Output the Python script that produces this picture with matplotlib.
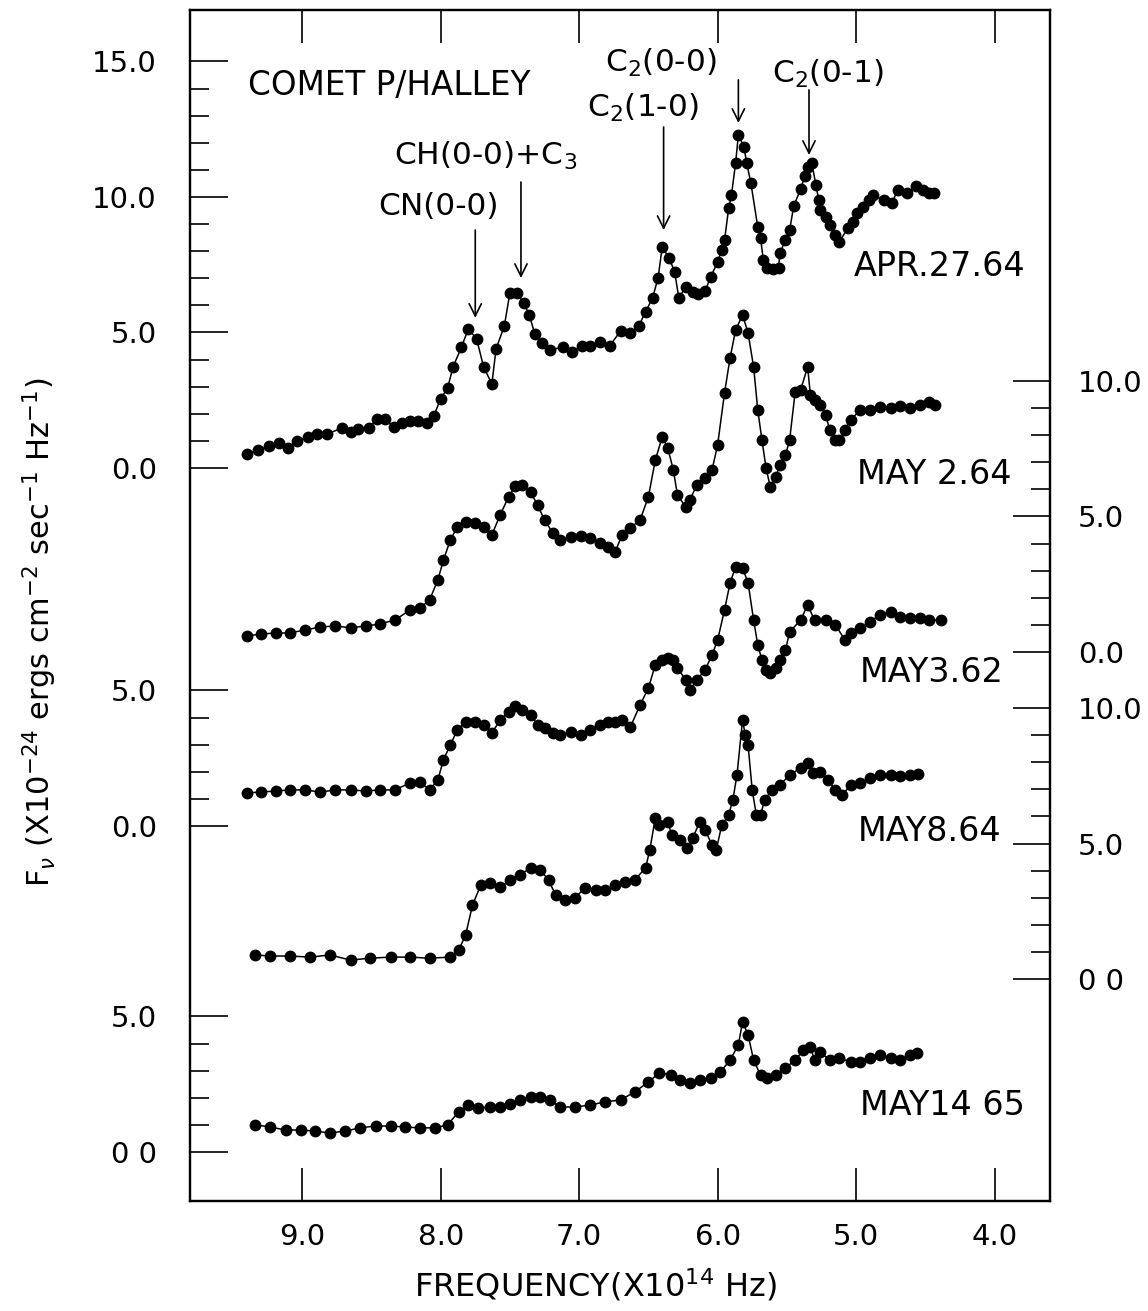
import matplotlib
matplotlib.use("Agg")
import matplotlib.pyplot as plt

plt.rcParams['font.family'] = ['DejaVu Sans']
plt.rcParams['mathtext.fontset'] = 'dejavusans'

# ---- spectra: frequency (1e14 Hz) and F_nu on each curve's own scale ----
apr_f = [9.40, 9.32, 9.24, 9.17, 9.10, 9.04, 8.96, 8.89, 8.82, 8.71, 8.65, 8.60, 8.52, 8.46, 8.40,
         8.34, 8.28, 8.22, 8.16, 8.10, 8.05, 8.00, 7.95, 7.91, 7.85, 7.80, 7.74, 7.69, 7.63, 7.60,
         7.54, 7.50, 7.45, 7.40, 7.36, 7.32, 7.27, 7.21, 7.12, 7.05, 6.98, 6.92, 6.85, 6.78, 6.70,
         6.63, 6.57, 6.52, 6.47, 6.43, 6.40, 6.35, 6.31, 6.28, 6.23, 6.18, 6.14, 6.09, 6.05, 6.00,
         5.97, 5.95, 5.92, 5.90, 5.87, 5.85, 5.81, 5.79, 5.76, 5.71, 5.69, 5.67, 5.64, 5.60, 5.56,
         5.55, 5.51, 5.48, 5.45, 5.40, 5.37, 5.35, 5.32, 5.29, 5.27, 5.26, 5.22, 5.19, 5.15, 5.12,
         5.06, 5.02, 4.99, 4.95, 4.91, 4.88, 4.80, 4.74, 4.70, 4.63, 4.57, 4.52, 4.47, 4.44]
apr_v = [0.52, 0.66, 0.81, 0.92, 0.74, 1.00, 1.14, 1.25, 1.25, 1.48, 1.33, 1.44, 1.48, 1.81, 1.81,
         1.51, 1.66, 1.73, 1.73, 1.66, 1.92, 2.55, 2.95, 3.73, 4.46, 5.13, 4.76, 3.73, 3.10, 4.39,
         5.24, 6.46, 6.46, 6.09, 5.65, 4.94, 4.61, 4.35, 4.46, 4.28, 4.50, 4.50, 4.65, 4.50, 5.06,
         4.98, 5.24, 5.76, 6.27, 7.01, 8.15, 7.75, 7.23, 6.27, 6.68, 6.49, 6.42, 6.53, 7.05, 7.60,
         8.04, 8.41, 9.59, 10.07, 11.25, 12.29, 11.85, 11.25, 10.52, 8.89, 8.49, 7.68, 7.38, 7.34, 7.38,
         7.93, 8.41, 8.78, 9.67, 10.30, 10.77, 11.11, 11.25, 10.44, 9.89, 9.52, 9.26, 8.97, 8.60, 8.34,
         8.86, 9.08, 9.41, 9.63, 9.89, 10.07, 9.89, 9.78, 10.26, 10.15, 10.41, 10.26, 10.15, 10.15]

may2_f = [9.40, 9.30, 9.19, 9.09, 8.98, 8.87, 8.76, 8.65, 8.54, 8.44, 8.33, 8.22, 8.15, 8.08, 8.02,
          7.98, 7.93, 7.88, 7.82, 7.75, 7.69, 7.63, 7.57, 7.51, 7.46, 7.41, 7.35, 7.30, 7.25, 7.19,
          7.14, 7.06, 6.99, 6.92, 6.85, 6.79, 6.74, 6.69, 6.63, 6.56, 6.50, 6.45, 6.40, 6.36, 6.32,
          6.29, 6.23, 6.20, 6.15, 6.09, 6.04, 6.00, 5.95, 5.91, 5.87, 5.82, 5.78, 5.74, 5.71, 5.68,
          5.65, 5.62, 5.58, 5.55, 5.51, 5.48, 5.44, 5.40, 5.35, 5.33, 5.30, 5.26, 5.22, 5.19, 5.15,
          5.12, 5.08, 5.04, 4.97, 4.90, 4.83, 4.75, 4.68, 4.61, 4.54, 4.47, 4.43]
may2_v = [0.59, 0.66, 0.70, 0.70, 0.81, 0.92, 0.96, 0.89, 0.96, 1.03, 1.18, 1.55, 1.62, 1.92, 2.66,
          3.39, 4.13, 4.61, 4.80, 4.76, 4.61, 4.32, 5.06, 5.72, 6.13, 6.16, 5.90, 5.42, 4.87, 4.39,
          4.13, 4.24, 4.28, 4.21, 4.02, 3.87, 3.69, 4.32, 4.58, 4.87, 5.72, 7.08, 7.93, 7.53, 6.72,
          5.79, 5.35, 5.61, 6.16, 6.42, 6.72, 7.64, 9.56, 10.85, 11.88, 12.44, 11.77, 10.52, 8.93, 7.82,
          6.79, 6.09, 6.46, 6.90, 7.27, 7.82, 9.59, 9.67, 10.52, 9.48, 9.30, 9.11, 8.75, 8.19, 7.82,
          7.82, 8.19, 8.56, 8.93, 8.93, 9.04, 9.00, 9.08, 9.00, 9.11, 9.23, 9.11]

may3_f = [9.40, 9.30, 9.19, 9.09, 8.98, 8.87, 8.76, 8.65, 8.54, 8.44, 8.33, 8.22, 8.15, 8.08, 8.02,
          7.98, 7.93, 7.88, 7.82, 7.75, 7.69, 7.63, 7.57, 7.51, 7.46, 7.41, 7.35, 7.30, 7.25, 7.19,
          7.14, 7.06, 6.99, 6.92, 6.85, 6.79, 6.74, 6.69, 6.63, 6.56, 6.50, 6.45, 6.40, 6.36, 6.32,
          6.29, 6.23, 6.20, 6.15, 6.09, 6.04, 6.00, 5.95, 5.91, 5.87, 5.82, 5.78, 5.74, 5.71, 5.68,
          5.65, 5.62, 5.58, 5.55, 5.51, 5.48, 5.40, 5.35, 5.30, 5.22, 5.15, 5.08, 5.04, 4.97, 4.90,
          4.83, 4.75, 4.68, 4.61, 4.54, 4.47, 4.39]
may3_v = [1.22, 1.25, 1.29, 1.33, 1.33, 1.25, 1.33, 1.33, 1.29, 1.33, 1.33, 1.59, 1.62, 1.33, 1.70,
          2.44, 2.99, 3.54, 3.84, 3.84, 3.73, 3.43, 3.91, 4.21, 4.43, 4.28, 4.10, 3.73, 3.62, 3.43,
          3.36, 3.47, 3.36, 3.54, 3.73, 3.84, 3.84, 3.91, 3.65, 4.46, 5.09, 5.94, 6.13, 6.20, 6.13,
          5.83, 5.39, 5.02, 5.39, 5.76, 6.31, 6.86, 7.97, 8.97, 9.56, 9.52, 8.97, 7.60, 6.68, 6.13,
          5.76, 5.65, 5.83, 6.13, 6.49, 7.16, 7.60, 8.15, 7.60, 7.60, 7.42, 6.86, 7.12, 7.31, 7.53,
          7.79, 7.90, 7.71, 7.68, 7.68, 7.60, 7.60]

may8_f = [9.34, 9.23, 9.09, 8.94, 8.80, 8.65, 8.51, 8.36, 8.22, 8.08, 7.93, 7.87, 7.82, 7.77, 7.71,
          7.64, 7.57, 7.50, 7.43, 7.35, 7.28, 7.22, 7.17, 7.10, 7.03, 6.96, 6.88, 6.81, 6.74, 6.67,
          6.60, 6.52, 6.49, 6.45, 6.42, 6.36, 6.33, 6.27, 6.22, 6.18, 6.13, 6.09, 6.04, 6.01, 5.97,
          5.92, 5.89, 5.86, 5.82, 5.80, 5.78, 5.75, 5.72, 5.69, 5.66, 5.61, 5.55, 5.48, 5.40, 5.35,
          5.31, 5.26, 5.20, 5.15, 5.10, 5.04, 4.97, 4.90, 4.83, 4.75, 4.68, 4.61, 4.55]
may8_v = [0.89, 0.85, 0.85, 0.81, 0.89, 0.70, 0.77, 0.81, 0.81, 0.77, 0.81, 1.07, 1.62, 2.73, 3.47,
          3.54, 3.39, 3.65, 3.84, 4.10, 4.02, 3.65, 3.10, 2.92, 2.99, 3.36, 3.28, 3.28, 3.47, 3.58,
          3.65, 4.10, 4.76, 5.94, 5.68, 5.79, 5.31, 5.13, 4.83, 5.20, 5.79, 5.50, 4.94, 4.76, 5.68,
          6.05, 6.61, 7.53, 9.56, 9.00, 8.63, 6.97, 6.05, 6.05, 6.61, 6.97, 7.16, 7.53, 7.79, 7.97,
          7.60, 7.64, 7.34, 6.97, 6.79, 7.16, 7.23, 7.42, 7.53, 7.53, 7.49, 7.53, 7.56]

may14_f = [9.34, 9.23, 9.12, 9.01, 8.91, 8.80, 8.69, 8.58, 8.47, 8.36, 8.26, 8.15, 8.04, 7.95, 7.87,
           7.80, 7.73, 7.64, 7.57, 7.50, 7.43, 7.35, 7.28, 7.21, 7.14, 7.03, 6.92, 6.81, 6.70, 6.60,
           6.50, 6.42, 6.34, 6.27, 6.20, 6.13, 6.05, 5.98, 5.91, 5.85, 5.82, 5.78, 5.74, 5.69, 5.64,
           5.58, 5.51, 5.44, 5.38, 5.33, 5.30, 5.26, 5.19, 5.12, 5.04, 4.97, 4.90, 4.83, 4.75, 4.68,
           4.61, 4.56]
may14_v = [1.00, 0.92, 0.81, 0.81, 0.77, 0.70, 0.77, 0.89, 0.96, 0.96, 0.92, 0.89, 0.89, 1.00, 1.48,
           1.73, 1.62, 1.66, 1.66, 1.77, 1.92, 2.03, 2.03, 1.92, 1.66, 1.66, 1.73, 1.85, 1.92, 2.21,
           2.58, 2.92, 2.84, 2.66, 2.55, 2.66, 2.73, 2.95, 3.39, 3.95, 4.80, 4.32, 3.39, 2.84, 2.73,
           2.84, 3.10, 3.39, 3.76, 3.87, 3.39, 3.69, 3.39, 3.47, 3.32, 3.32, 3.47, 3.58, 3.47, 3.39,
           3.58, 3.65]

dates = ["APR.27.64", "MAY 2.64", "MAY3.62", "MAY8.64", "MAY14 65"]
# vertical shift of each curve's zero on the common plotting scale
zero_shift = [0.0, -6.79, -13.21, -18.86, -25.24]

fig = plt.figure(figsize=(11.48, 13.11), dpi=100)
ax = fig.add_axes([0.1655, 0.0839, 0.7491, 0.9085])

curves = [(apr_f, apr_v), (may2_f, may2_v), (may3_f, may3_v), (may8_f, may8_v), (may14_f, may14_v)]
for (f, v), z in zip(curves, zero_shift):
    ax.plot(f, [val + z for val in v], '-', color='black', lw=1.1,
            marker='o', ms=7.5, mfc='black', mec='black')

ax.set_xlim(9.81, 3.60)
ax.set_ylim(-27.05, 16.9)

# x ticks
ax.set_xticks([9, 8, 7, 6, 5, 4])
ax.set_xticklabels(["9.0", "8.0", "7.0", "6.0", "5.0", "4.0"])
ax.tick_params(axis='x', which='both', direction='in', length=24, width=1.2,
               top=True, bottom=True, labelsize=21, pad=16)

# left scales: top 0-15, middle 0-5, bottom 0-5
left_major = [0, 5, 10, 15, -13.21, -8.21, -25.24, -20.24]
left_labels = ["0.0", "5.0", "10.0", "15.0", "0.0", "5.0", "0 0", "5.0"]
left_minor = [i for i in range(1, 15) if i % 5] + \
             [-13.21 + i for i in range(1, 5)] + [-25.24 + i for i in range(1, 5)]
ax.set_yticks(left_major)
ax.set_yticklabels(left_labels)
ax.set_yticks(left_minor, minor=True)
ax.tick_params(axis='y', which='major', direction='in', length=27, width=1.2,
               labelsize=21, pad=24)
ax.tick_params(axis='y', which='minor', direction='in', length=14, width=1.2)

# right scales: two 0-10
ax2 = ax.twinx()
ax2.set_ylim(ax.get_ylim())
right_major = [-6.79, -1.79, 3.21, -18.86, -13.86, -8.86]
right_labels = ["0.0", "5.0", "10.0", "0 0", "5.0", "10.0"]
right_minor = [-6.79 + i for i in range(1, 10) if i != 5] + \
              [-18.86 + i for i in range(1, 10) if i != 5]
ax2.set_yticks(right_major)
ax2.set_yticklabels(right_labels)
ax2.set_yticks(right_minor, minor=True)
ax2.tick_params(axis='y', which='major', direction='in', length=27, width=1.2,
                labelsize=21, pad=20)
ax2.tick_params(axis='y', which='minor', direction='in', length=14, width=1.2)

for a in (ax, ax2):
    for s in a.spines.values():
        s.set_linewidth(1.6)

# band identifications
ax.text(9.39, 14.13, "COMET P/HALLEY", fontsize=23.5, ha='left', va='center')
ax.text(6.81, 14.95, "C$_2$(0-0)", fontsize=22.5, ha='left', va='center')
ax.text(6.94, 13.30, "C$_2$(1-0)", fontsize=22.5, ha='left', va='center')
ax.text(5.61, 14.55, "C$_2$(0-1)", fontsize=22.5, ha='left', va='center')
ax.text(8.34, 11.50, "CH(0-0)+C$_3$", fontsize=22.5, ha='left', va='center')
ax.text(8.45, 9.63, "CN(0-0)", fontsize=22.5, ha='left', va='center')

arrows = [(7.75, 8.78, 5.54), (7.42, 10.55, 7.01), (6.39, 12.58, 8.78),
          (5.85, 14.32, 12.73), (5.34, 13.95, 11.55)]
for xf, y0, y1 in arrows:
    ax.annotate("", xy=(xf, y1), xytext=(xf, y0),
                arrowprops=dict(arrowstyle='->', lw=1.2, color='black',
                                mutation_scale=22, shrinkA=0, shrinkB=0))

date_pos = [(5.02, 7.45), (4.99, -0.26), (4.97, -7.53), (4.99, -13.43), (4.97, -23.51)]
for d, (xf, yy) in zip(dates, date_pos):
    ax.text(xf, yy, d, fontsize=24, ha='left', va='center')

fig.text(0.519, 0.006, "FREQUENCY(X10$^{14}$ Hz)", fontsize=23, ha='center', va='bottom')
fig.text(0.035, 0.518, r"F$_\nu$ (X10$^{-24}$ ergs cm$^{-2}$ sec$^{-1}$ Hz$^{-1}$)",
         fontsize=22, rotation=90, ha='center', va='center')

fig.savefig("out.png", dpi=100)
